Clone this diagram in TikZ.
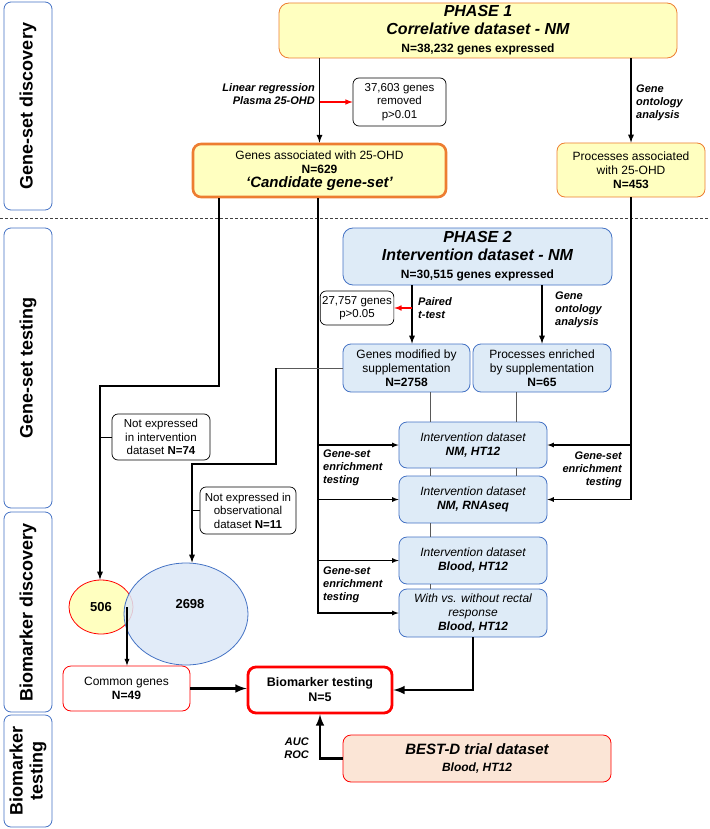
\documentclass[tikz,border=0pt]{standalone}
\usepackage{fontspec}
\setmainfont{Liberation Sans}
\usetikzlibrary{arrows,positioning,shapes.geometric}
\definecolor{yelfill}{RGB}{255,255,192}
\definecolor{orangeline}{RGB}{237,125,49}
\definecolor{bluefill}{RGB}{222,235,247}
\definecolor{blueline}{RGB}{68,114,196}
\definecolor{peach}{RGB}{251,229,214}
\definecolor{vennblue}{RGB}{220,232,247}
\definecolor{linkgray}{RGB}{89,89,89}
\newcommand{\fs}[2]{\fontsize{#1}{#2}\selectfont}
\newcommand{\bfit}{\bfseries\itshape}

\begin{document}
\begin{tikzpicture}
[x=1pt,y=-1pt,
 box/.style={rectangle,rounded corners=8pt,align=center,inner sep=2pt,font=\fs{12}{14}},
 yelbox/.style={box,draw=orangeline,fill=yelfill,line width=0.8pt},
 candbox/.style={box,draw=orangeline,fill=yelfill,line width=2.6pt},
 bluebox/.style={box,draw=blueline,fill=bluefill,line width=0.8pt},
 phasebox/.style={rounded corners=10pt,font=\bfit\fs{16}{18}},
 notebox/.style={box,draw=black,fill=white,line width=0.7pt,rounded corners=6pt,font=\fs{11.5}{13.5}},
 sidebox/.style={box,draw=blueline,rotate=90,line width=0.8pt,rounded corners=7pt,font=\bfseries\fs{18}{20},minimum height=48pt},
 how/.style={font=\bfit\fs{11}{13},inner sep=0pt},
 arr/.style={-latex,line width=1.7pt},
 thinarr/.style={-latex,line width=1.2pt},
 bigarr/.style={-latex,line width=2.8pt},
 redarr/.style={-latex,line width=1.5pt,red},
 graylink/.style={line width=1pt,linkgray}]

\useasboundingbox (0,0) rectangle (709,829);

% stage labels on the left
\node[sidebox,minimum width=208pt] (sd1) at (28,106) {Gene-set discovery};
\node[sidebox,minimum width=280pt] (sd2) at (28,368) {Gene-set testing};
\node[sidebox,minimum width=200pt] (sd3) at (28,612) {Biomarker discovery};
\node[sidebox,minimum width=112pt] (sd4) at (28,771) {Biomarker\\testing};

\draw[dash pattern=on 3pt off 2pt,line width=0.6pt,black!75] (0,218) -- (709,218);

% phase 1
\node[yelbox,phasebox,minimum width=398pt,minimum height=55pt] (P1) at (478,30.5)
  {PHASE 1\\Correlative dataset - NM\\\upshape\fs{12}{14}N=38,232 genes expressed};
\node[notebox,minimum width=93pt,minimum height=48pt] (rem1) at (399.5,102) {37,603 genes\\removed\\p>0.01};
\node[candbox,minimum width=253pt,minimum height=53pt] (cand) at (319.5,170.5)
  {Genes associated with 25-OHD\\\bfseries N=629\\\bfit\fs{15}{17}`Candidate gene-set'};
\node[yelbox,minimum width=148pt,minimum height=54pt] (proc1) at (631,170) {Processes associated\\with 25-OHD\\\bfseries N=453};

\node[how,align=right,anchor=east] (lr) at (315,94) {Linear regression\\Plasma 25-OHD};
\node[how,align=left,anchor=west] (go1) at (636,103) {Gene\\ontology\\analysis};

\draw[arr] (P1.south -| cand.north) -- (cand.north);
\draw[redarr] (rem1.west -| cand.north) -- (rem1.west);
\draw[arr] (P1.south -| proc1.north) -- (proc1.north);

% phase 2
\node[bluebox,phasebox,minimum width=269pt,minimum height=57pt] (P2) at (477.5,256.5)
  {PHASE 2\\Intervention dataset - NM\\\upshape\fs{12}{14}N=30,515 genes expressed};
\node[notebox,minimum width=72pt,minimum height=34pt] (rem2) at (357,308) {27,757 genes\\p>0.05};
\node[bluebox,minimum width=127pt,minimum height=48pt] (gmod) at (406.5,368) {Genes modified by\\supplementation\\\bfseries N=2758};
\node[bluebox,minimum width=138pt,minimum height=48pt] (penr) at (542,368) {Processes enriched\\by supplementation\\\bfseries N=65};

\node[how,align=left,anchor=west] (pt) at (418,308) {Paired\\t-test};
\node[how,align=left,anchor=west] (go2) at (555,310) {Gene\\ontology\\analysis};

\coordinate (k5) at (412,0);
\draw[arr] (P2.south -| k5) -- (gmod.north -| k5);
\draw[redarr] (rem2.east -| k5) -- (rem2.east);
\draw[arr] (P2.south -| penr.north) -- (penr.north);

% datasets tested
\node[bluebox,minimum width=148pt,minimum height=46pt] (iv1) at (473,445) {\itshape Intervention dataset\\\bfit NM, HT12};
\node[bluebox,minimum width=148pt,minimum height=47pt] (iv2) at (473,499.5) {\itshape Intervention dataset\\\bfit NM, RNAseq};
\node[bluebox,minimum width=148pt,minimum height=47pt] (iv3) at (473,560.5) {\itshape Intervention dataset\\\bfit Blood, HT12};
\node[bluebox,minimum width=148pt,minimum height=48pt] (iv4) at (473,613) {\itshape With vs. without rectal\\\itshape response\\\bfit Blood, HT12};

\coordinate (g1) at (430,0);
\coordinate (g2) at (516,0);
\draw[graylink] (gmod.south -| g1) -- (iv1.north -| g1);
\draw[graylink] (penr.south -| g2) -- (iv1.north -| g2);
\draw[graylink] (iv1.south -| g1) -- (iv2.north -| g1);
\draw[graylink] (iv1.south -| g2) -- (iv2.north -| g2);
\draw[graylink] (iv2.south -| g1) -- (iv3.north -| g1);
\draw[graylink] (iv3.south -| g1) -- (iv4.north -| g1);

\coordinate (k3) at (318,0);
\draw[thinarr] (cand.south -| k3) |- (iv4.west);
\foreach \b in {iv1,iv2,iv3}
  \draw[thinarr] (\b.west -| k3) -- (\b.west);
\draw[thinarr] (proc1.south) |- (iv2.east);
\draw[thinarr] (iv1.east -| proc1.south) -- (iv1.east);

\node[how,align=left,anchor=west] (ge1) at (323,468) {Gene-set\\enrichment\\testing};
\node[how,align=left,anchor=west] (ge2) at (323,585) {Gene-set\\enrichment\\testing};
\node[how,align=right,anchor=east] (ge3) at (622,470) {Gene-set\\enrichment\\testing};

% overlap of the two gene lists
\node[ellipse,draw=red,fill=yelfill,line width=0.8pt,minimum width=64pt,minimum height=54pt,font=\bfseries\fs{13}{15}] (v1) at (101,607) {506};
\node[ellipse,draw=blueline,fill=vennblue,fill opacity=0.85,line width=0.8pt,minimum width=124pt,minimum height=102pt] (v2) at (186,614) {};
\node[font=\bfseries\fs{13}{15}] (n2698) at (190,604) {2698};

\node[notebox,minimum width=98pt,minimum height=46pt] (ne74) at (161,437) {Not expressed\\in intervention\\dataset \textbf{N=74}};
\node[notebox,minimum width=96pt,minimum height=47pt] (ne11) at (248,510.5) {Not expressed in\\observational\\dataset \textbf{N=11}};

\coordinate (k1) at (219,386);
\coordinate (k2) at (100,386);
\draw[arr] (cand.south -| k1) -- (k1) -- (k2) -- (k2 |- v1.north);
\draw[line width=1pt] (ne74.west) -- (ne74.west -| k2);

\coordinate (k6) at (276,368);
\coordinate (k7) at (276,464);
\coordinate (k8) at (192,464);
\draw[graylink] (gmod.west) -- (k6);
\draw[arr] (k6) -- (k7) -- (k8) -- (k8 |- v2.north);
\draw[line width=1pt] (ne11.west) -- (ne11.west -| k8);

% biomarkers
\node[box,draw=red,fill=white,line width=0.8pt,minimum width=127pt,minimum height=45pt] (comm) at (126.5,688.5) {Common genes\\\bfseries N=49};
\node[box,draw=red,fill=white,line width=2.8pt,minimum width=144pt,minimum height=46pt,font=\bfseries\fs{12.5}{15}] (bio) at (320,690) {Biomarker testing\\N=5};
\node[box,draw=red,fill=peach,line width=0.8pt,minimum width=268pt,minimum height=47pt,font=\bfit\fs{15}{17}] (best) at (477,758.5)
  {BEST-D trial dataset\\\fs{12}{14}Blood, HT12};
\node[how,align=right,anchor=east] (auc) at (309,748) {AUC\\ROC};

\coordinate (ov) at (127,607);
\draw[arr,line width=1.3pt] (ov) -- (ov |- comm.north);
\draw[bigarr] (comm.east) -- (comm.east -| bio.west);
\draw[bigarr] (iv4.south) |- (bio.east);
\draw[bigarr] (best.west) -| (bio.south);
\end{tikzpicture}
\end{document}
